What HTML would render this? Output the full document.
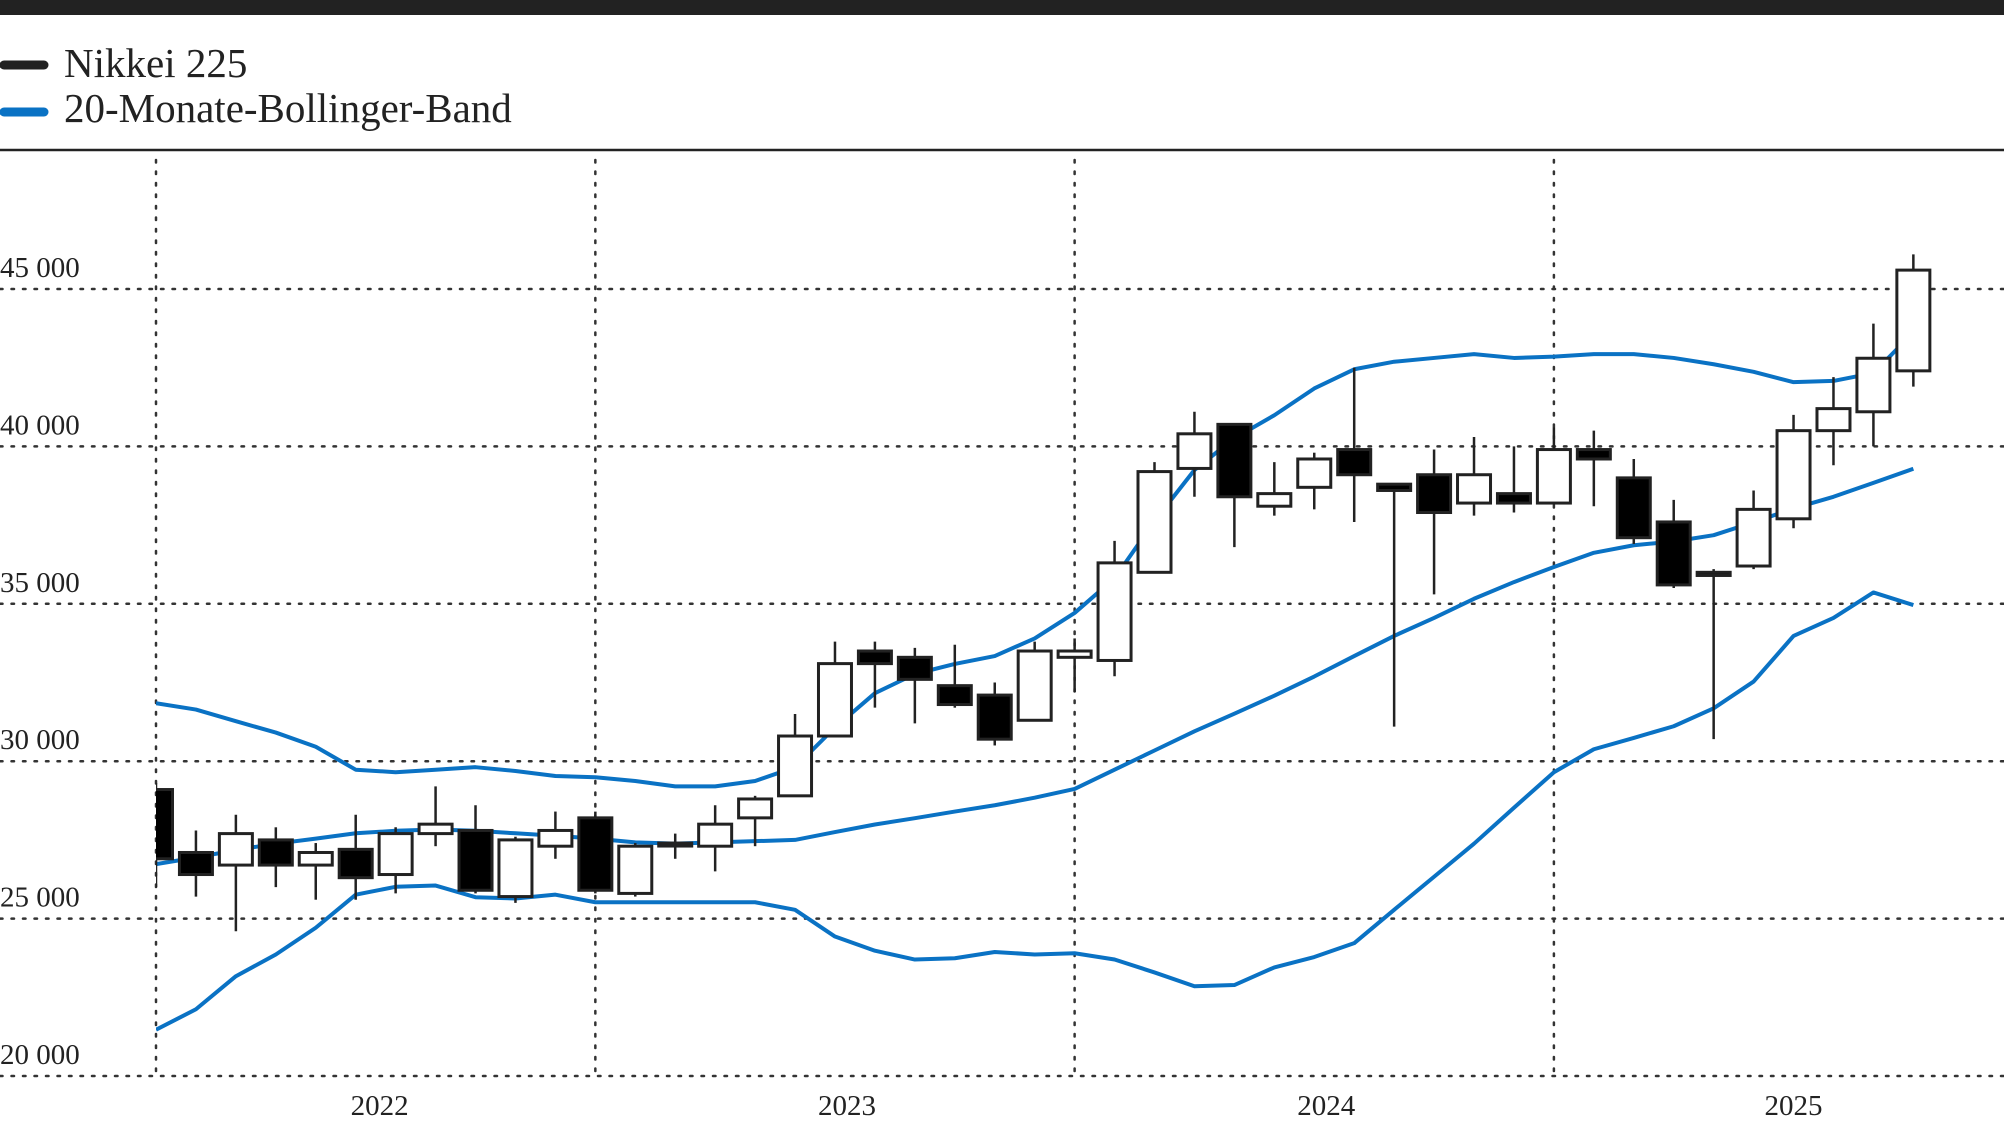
<!DOCTYPE html>
<html><head><meta charset="utf-8"><style>
html,body{margin:0;padding:0;background:#fff;}
svg{display:block;}
text{font-family:"Liberation Serif",serif;fill:#222;}
</style></head><body>
<svg id="chart" width="2004" height="1131" viewBox="0 0 2004 1131" xmlns="http://www.w3.org/2000/svg">
<rect x="0" y="0" width="2004" height="15" fill="#222"/>
<g>
<g>
<line x1="4" y1="65" x2="44" y2="65" stroke="#222" stroke-width="9" stroke-linecap="round"/>
<text x="64" y="77" font-size="41">Nikkei 225</text></g>
<g>
<line x1="4" y1="112" x2="44" y2="112" stroke="#0a72c4" stroke-width="9" stroke-linecap="round"/>
<text x="64" y="122" font-size="41">20-Monate-Bollinger-Band</text></g>
</g>
<line x1="0" y1="150" x2="2004" y2="150" stroke="#222" stroke-width="2.5"/>
<defs><clipPath id="plotclip"><rect x="156" y="155" width="1848" height="940"/></clipPath></defs>
<g id="grid"></g>
<g id="bands" clip-path="url(#plotclip)"></g>
<g id="candles" clip-path="url(#plotclip)"></g>
<g id="labels"></g>
</svg>
<script>
const yTicks=[20000,25000,30000,35000,40000,45000];
const yTickLabels=["20 000","25 000","30 000","35 000","40 000","45 000"];
const xGridIdx=[0,11,23,35];
const xLabelIdx=[5.6,17.3,29.3,41];
const xLabels=["2022","2023","2024","2025"];
const open=[29100,27100,26700,27500,26700,27200,26400,27700,27800,25700,27300,28200,25800,27400,27300,28200,28900,30800,33500,33300,32400,32100,31300,33300,33200,36000,39300,40700,38100,38700,39900,38800,39100,38200,38500,38200,39900,39000,37600,36000,36200,37700,40500,41100,42400];
const close=[26900,26400,27700,26700,27100,26300,27700,28000,25900,27500,27800,25900,27300,27400,28000,28800,30800,33100,33100,32600,31800,30700,33500,33500,36300,39200,40400,38400,38500,39600,39100,38600,37900,39100,38200,39900,39600,37100,35600,35900,38000,40500,41200,42800,45600];
const high=[29300,27800,28300,27900,27400,28300,27900,29200,28600,27600,28400,28400,27400,27700,28600,28900,31500,33800,33800,33600,33700,32500,33800,33900,37000,39500,41100,40700,39500,39800,42500,38800,39900,40300,40000,40600,40500,39600,38300,36100,38600,41000,42200,43900,46100];
const low=[26000,25700,24600,26000,25600,25600,25800,27300,25800,25500,26900,25800,25700,26900,26500,27300,28900,30800,31700,31200,31700,30500,31300,32200,32700,36000,38400,36800,37800,38000,37600,31100,35300,37800,37900,38200,38100,36900,35500,30700,36100,37400,39400,40000,41900];
const upperBand=[31840,31640,31270,30910,30460,29730,29650,29730,29810,29690,29530,29490,29370,29200,29200,29370,29810,31070,32160,32770,33090,33340,33900,34710,35810,37630,39250,40260,40990,41840,42450,42690,42810,42930,42810,42850,42930,42930,42810,42610,42370,42040,42080,42330,43620];
const midBand=[26730,26940,27180,27380,27540,27710,27790,27830,27790,27710,27630,27540,27420,27380,27420,27460,27500,27750,27990,28190,28400,28600,28840,29120,29730,30340,30950,31510,32080,32690,33340,33980,34550,35160,35690,36170,36620,36860,36980,37180,37590,38030,38400,38840,39290];
const lowerBand=[21470,22120,23170,23860,24710,25760,26010,26050,25680,25640,25760,25520,25520,25520,25520,25520,25280,24430,23980,23700,23740,23940,23860,23900,23700,23290,22850,22890,23450,23780,24220,25280,26330,27380,28520,29650,30380,30740,31110,31680,32530,33980,34550,35360,34960];

const NS="http://www.w3.org/2000/svg";
function X(i){return 156+i*39.94;}
function Y(v){return 289+(45000-v)*787/25000;}
function mk(tag,attrs,parent){const e=document.createElementNS(NS,tag);for(const k in attrs)e.setAttribute(k,attrs[k]);parent.appendChild(e);return e;}
const grid=document.getElementById('grid'),bands=document.getElementById('bands'),cg=document.getElementById('candles'),lg=document.getElementById('labels');
yTicks.forEach((v,i)=>{
  const l=mk('line',{x1:0,x2:2004,y1:Y(v),y2:Y(v),stroke:'#333','stroke-width':2.5,'stroke-dasharray':'2.5 9','stroke-linecap':'round'},grid);
  
  
  const t=mk('text',{x:0,y:Y(v)-12,'font-size':29},lg);
  t.textContent=yTickLabels[i];
  
  
});
xGridIdx.forEach(i=>{
  const l=mk('line',{x1:X(i),x2:X(i),y1:160,y2:1080,stroke:'#333','stroke-width':2.5,'stroke-dasharray':'2.5 9','stroke-linecap':'round'},grid);
  
  
});
xLabelIdx.forEach((i,k)=>{
  const t=mk('text',{x:X(i),y:1115,'font-size':29,'text-anchor':'middle'},lg);
  t.textContent=xLabels[k];
  
  
});
[[upperBand,'upper-band'],[midBand,'middle-band'],[lowerBand,'lower-band']].forEach(([arr,name])=>{
  const p=mk('polyline',{points:arr.map((v,i)=>X(i)+','+Y(v)).join(' '),fill:'none',stroke:'#0a72c4','stroke-width':4,'stroke-linejoin':'round'},bands);
  
  
});
const bw=33;
open.forEach((o,i)=>{
  const c=close[i],x=X(i);
  const g=mk('g',{},cg);
  
  
  mk('line',{x1:x,x2:x,y1:Y(high[i]),y2:Y(low[i]),stroke:'#222','stroke-width':2.5},g);
  const top=Y(Math.max(o,c)),bot=Y(Math.min(o,c));
  mk('rect',{x:x-bw/2,y:top,width:bw,height:Math.max(bot-top,3),fill:c<o?'#000':'#fff',stroke:'#222','stroke-width':3},g);
});
</script>
</body></html>
